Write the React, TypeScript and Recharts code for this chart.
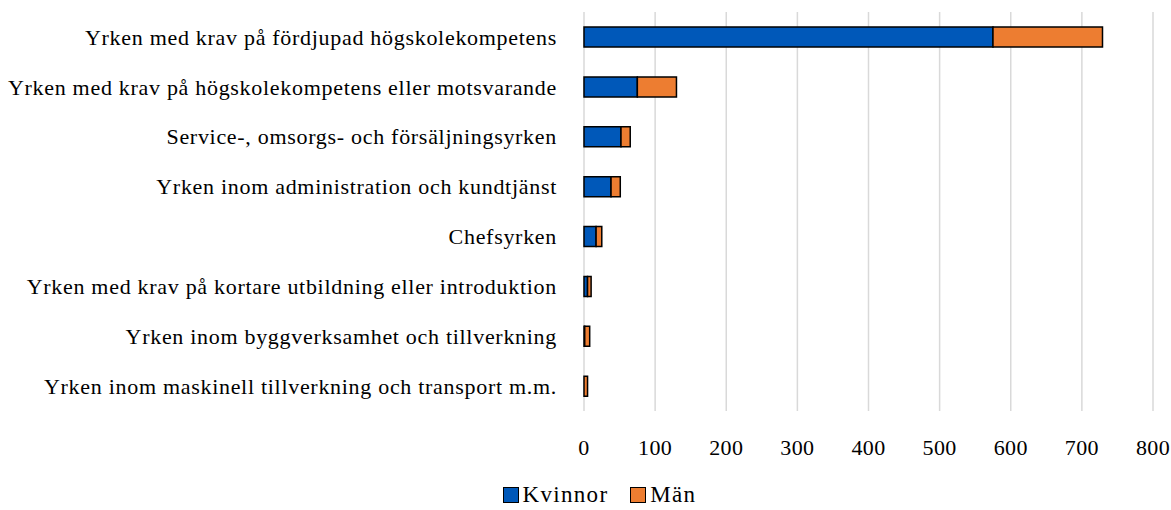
import { BarChart, Bar, XAxis, YAxis, CartesianGrid, Legend } from 'recharts';

const categories = [
  'Yrken med krav på fördjupad högskolekompetens',
  'Yrken med krav på högskolekompetens eller motsvarande',
  'Service-, omsorgs- och försäljningsyrken',
  'Yrken inom administration och kundtjänst',
  'Chefsyrken',
  'Yrken med krav på kortare utbildning eller introduktion',
  'Yrken inom byggverksamhet och tillverkning',
  'Yrken inom maskinell tillverkning och transport m.m.',
];
const kvinnor = [575, 75, 52, 38, 17, 5, 1, 0];
const man = [154, 55, 13, 13, 8, 5, 7, 5];
const xTicks = [0, 100, 200, 300, 400, 500, 600, 700, 800];

const series = [
  { key: 'kvinnor', name: 'Kvinnor', color: '#0058b9' },
  { key: 'man', name: 'Män', color: '#ed7d31' },
];

const data = categories.map((name, i) => ({ name, kvinnor: kvinnor[i], man: man[i] }));

const font = '"Palatino Linotype", "Book Antiqua", Palatino, "Liberation Serif", serif';

const LegendContent = () => (
  <div
    style={{
      display: 'flex',
      justifyContent: 'center',
      fontFamily: font,
      fontSize: 23,
      letterSpacing: 1.3,
      lineHeight: '24px',
      color: '#000',
      paddingLeft: 28,
    }}
  >
    {series.map((s, i) => (
      <div key={s.key} style={{ display: 'flex', alignItems: 'center', marginRight: i === 0 ? 22 : 0 }}>
        <span
          style={{
            display: 'inline-block',
            boxSizing: 'border-box',
            width: 16,
            height: 16,
            background: s.color,
            border: '1.5px solid #000',
            marginRight: 4,
          }}
        />
        <span>{s.name}</span>
      </div>
    ))}
  </div>
);

const App = () => {
  return (
    <div style={{ position: 'absolute', left: 0, top: 0, width: 1171, height: 510, background: '#fff' }}>
      <BarChart
        width={1171}
        height={510}
        data={data}
        layout="vertical"
        margin={{ top: 12, right: 18, bottom: 59, left: 0 }}
      >
        <CartesianGrid horizontal={false} stroke="#d9d9d9" strokeWidth={1.5} />
        <XAxis
          type="number"
          domain={[0, 800]}
          ticks={xTicks}
          axisLine={false}
          tickLine={false}
          tickMargin={22}
          height={40}
          tick={{ fill: '#000', fontFamily: font, fontSize: 22, letterSpacing: 0.4 }}
        />
        <YAxis
          type="category"
          dataKey="name"
          width={584}
          axisLine={false}
          tickLine={false}
          tickMargin={21}
          interval={0}
          tick={{ fill: '#000', fontFamily: font, fontSize: 22, letterSpacing: 0.7 }}
        />
        <Legend
          verticalAlign="middle"
          align="center"
          layout="horizontal"
          content={<LegendContent />}
          wrapperStyle={{ top: 483, left: 0, width: 1171 }}
        />
        {series.map((s) => (
          <Bar
            key={s.key}
            dataKey={s.key}
            name={s.name}
            stackId="a"
            fill={s.color}
            stroke="#000"
            strokeWidth={1.5}
            barSize={20}
            isAnimationActive={false}
          />
        ))}
      </BarChart>
    </div>
  );
};

export default App;
